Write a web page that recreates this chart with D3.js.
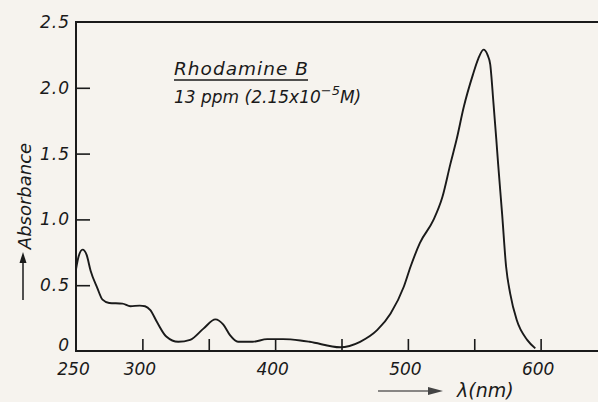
<!DOCTYPE html>
<html><head><meta charset="utf-8">
<script src="https://cdn.jsdelivr.net/npm/d3@7"></script>
<style>
html,body{margin:0;padding:0;background:#f6f3ee;}
svg{display:block;}
text{font-family:"DejaVu Sans",sans-serif;font-style:italic;fill:#1a1a1a;}
</style></head>
<body><svg id="c" width="598" height="402"></svg>
<script>
const wavelength = [250,252,255,258,261,266,270,275,285,291,298,302,306,311,318,327,336,346,355,361,366,372,383,394,406,419,426,449,464,477,487,497,502,509,519,526,532,537,542,549,553,557,560,562,564.5,566.6,568,571,574,577,582,590,596];
const absorbance = [0.62,0.72,0.77,0.73,0.61,0.48,0.39,0.365,0.36,0.34,0.345,0.34,0.31,0.22,0.11,0.07,0.085,0.17,0.24,0.20,0.12,0.07,0.07,0.09,0.09,0.08,0.07,0.028,0.07,0.16,0.285,0.49,0.64,0.82,0.99,1.17,1.42,1.62,1.85,2.10,2.22,2.29,2.25,2.18,1.88,1.61,1.42,1.04,0.64,0.44,0.235,0.083,0.02];
const xTicks = [300,350,400,450,500,550,600];
const xLabels = [250,300,400,500,600];
const yTicks = [0,0.5,1.0,1.5,2.0,2.5];

const svg = d3.select("#c");
const L=76, T=22, B=351;
const x = d3.scaleLinear().domain([250,650]).range([L,607]);
const y = d3.scaleLinear().domain([0,2.5]).range([B,T]);
const ink="#1a1a1a";

// frame
svg.append("line").attr("x1",L).attr("x2",598).attr("y1",T).attr("y2",T).attr("stroke",ink).attr("stroke-width",2);
svg.append("line").attr("x1",L).attr("x2",598).attr("y1",B).attr("y2",B).attr("stroke",ink).attr("stroke-width",2);
svg.append("line").attr("x1",L).attr("x2",L).attr("y1",T-1).attr("y2",B+1).attr("stroke",ink).attr("stroke-width",2);

// y axis
const ya = d3.axisLeft(y).tickValues(yTicks).tickSizeInner(-14).tickSizeOuter(0).tickPadding(6)
  .tickFormat(d=>d===0?"0":d3.format(".1f")(d));
const gy = svg.append("g").attr("transform",`translate(${L},0)`).call(ya);
gy.select(".domain").remove();
gy.selectAll(".tick line").attr("stroke",ink).attr("stroke-width",1.6).filter(d=>d===0||d===2.5).remove();
gy.selectAll(".tick text").attr("font-size",17).attr("fill",ink).attr("font-family",null).attr("letter-spacing",1);
gy.selectAll(".tick text").filter(d=>d===0).attr("dy","-0.05em");

// x axis
const xa = d3.axisBottom(x).tickValues([250].concat(xTicks)).tickSizeInner(-12).tickSizeOuter(0).tickPadding(12)
  .tickFormat(d=>xLabels.includes(d)?String(d):"");
const gx = svg.append("g").attr("transform",`translate(0,${B})`).call(xa);
gx.select(".domain").remove();
gx.selectAll(".tick line").attr("stroke",ink).attr("stroke-width",1.6).filter(d=>d===250).remove();
gx.selectAll(".tick text").attr("font-size",17).attr("fill",ink).attr("font-family",null).attr("dx",-3);

// curve
const line = d3.line().x((d,i)=>x(wavelength[i])).y((d,i)=>y(absorbance[i])).curve(d3.curveMonotoneX);
svg.append("path").datum(absorbance).attr("d",line).attr("fill","none").attr("stroke",ink).attr("stroke-width",1.9);

// title
svg.append("text").attr("x",174).attr("y",75).attr("font-size",18.5).attr("textLength",134).text("Rhodamine B");
svg.append("line").attr("x1",174).attr("x2",308).attr("y1",80).attr("y2",80).attr("stroke",ink).attr("stroke-width",1.6);
const t2 = svg.append("text").attr("x",174).attr("y",103).attr("font-size",17);
t2.append("tspan").text("13 ppm (2.15x10");
t2.append("tspan").attr("dy",-8).attr("font-size",13).text("−5");
t2.append("tspan").attr("dy",8).text("M)");

// y title
svg.append("text").attr("transform","translate(31,196) rotate(-90)").attr("text-anchor","middle").attr("font-size",18).text("Absorbance");
svg.append("line").attr("x1",23).attr("x2",23).attr("y1",300).attr("y2",262).attr("stroke",ink).attr("stroke-width",1.5);
svg.append("path").attr("d","M23,252 L19.5,263 L26.5,263 Z").attr("fill",ink);

// x title
svg.append("line").attr("x1",378).attr("x2",430).attr("y1",391).attr("y2",391).attr("stroke",ink).attr("stroke-width",1.2);
svg.append("path").attr("d","M443,391 L428,387 L428,395 Z").attr("fill","#444");
svg.append("text").attr("x",457).attr("y",397).attr("font-size",19).text("λ(nm)");
</script></body></html>
